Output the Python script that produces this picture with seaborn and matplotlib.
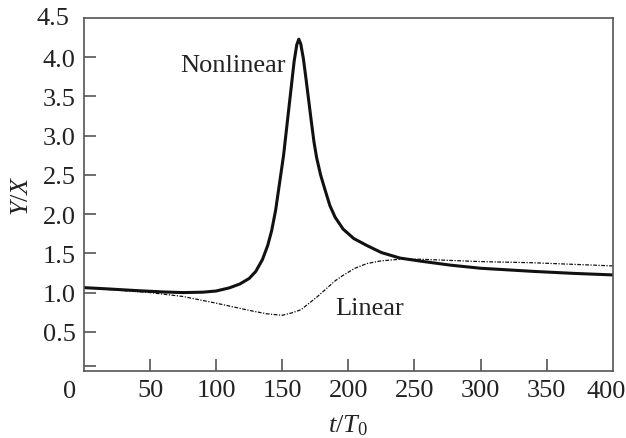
import numpy as np
import pandas as pd
import matplotlib
matplotlib.use('Agg')
import matplotlib.pyplot as plt
import matplotlib.transforms as mtransforms
import seaborn as sns

# values
t_nonlinear = [0, 20, 40, 60, 75, 90, 100, 110, 118, 125, 130, 135, 139, 142, 145,
               148, 151, 154, 157, 159, 161, 162.5, 164, 166, 168, 170, 172, 174,
               176, 179, 182, 186, 190, 196, 204, 214, 225, 239, 255, 277, 300,
               340, 370, 400]
y_nonlinear = [1.063, 1.045, 1.025, 1.008, 1.0, 1.005, 1.02, 1.06, 1.11, 1.18, 1.27,
               1.42, 1.6, 1.79, 2.05, 2.4, 2.75, 3.2, 3.65, 3.95, 4.16, 4.23, 4.17,
               3.98, 3.72, 3.45, 3.18, 2.92, 2.72, 2.5, 2.33, 2.11, 1.96, 1.81, 1.69,
               1.60, 1.51, 1.44, 1.40, 1.35, 1.31, 1.27, 1.245, 1.225]

t_linear = [0, 25, 50, 75, 100, 115, 126, 138, 150, 157, 164, 170, 176, 184, 190,
            196, 205, 214, 225, 239, 255, 277, 300, 340, 370, 400]
y_linear = [1.063, 1.03, 1.0, 0.95, 0.865, 0.81, 0.77, 0.73, 0.71, 0.74, 0.78, 0.86,
            0.94, 1.06, 1.15, 1.22, 1.31, 1.37, 1.405, 1.425, 1.425, 1.41, 1.395,
            1.38, 1.36, 1.34]

x_ticks = [0, 50, 100, 150, 200, 250, 300, 350, 400]
y_ticks = [0.5, 1.0, 1.5, 2.0, 2.5, 3.0, 3.5, 4.0, 4.5]

sns.set_theme(style='ticks')
plt.rcParams['font.family'] = ['Liberation Serif', 'DejaVu Serif']
plt.rcParams['mathtext.fontset'] = 'custom'
plt.rcParams['mathtext.rm'] = 'Liberation Serif'
plt.rcParams['mathtext.it'] = 'Liberation Serif:italic'

text_col = '#222222'
spine_col = '#555555'
fs = 19

df_nl = pd.DataFrame({'t': t_nonlinear, 'y': y_nonlinear})
df_l = pd.DataFrame({'t': t_linear, 'y': y_linear})

fig = plt.figure(figsize=(6.26, 4.39), dpi=100)
ax = fig.add_axes([0.134, 0.1526, 0.845, 0.804])

sns.lineplot(data=df_l, x='t', y='y', ax=ax, color='#111111', lw=0.9,
             linestyle=(0, (3, 1.2, 1, 1.2)), sort=False)
sns.lineplot(data=df_nl, x='t', y='y', ax=ax, color='#111111', lw=2.2, sort=False)

ax.set_xlim(0, 400)
ax.set_ylim(0.0, 4.5)
ax.set_xticks(x_ticks[1:-1])
ax.set_yticks([0.06] + y_ticks[:-1])
ax.set_yticklabels([''] + [f'{v:.1f}' for v in y_ticks[:-1]])
ax.set_xticklabels([str(v) for v in x_ticks[1:-1]])

ax.tick_params(direction='in', length=8.5, width=1.2, color=spine_col,
               labelsize=fs, labelcolor=text_col, pad=6)
for s in ax.spines.values():
    s.set_color(spine_col)
    s.set_linewidth(1.2)

# labels at the ends of the axes (no tick marks there)
xt = ax.get_xaxis_transform()
ax.text(0, 0, '0', ha='center', va='top', fontsize=fs, color=text_col,
        transform=xt + mtransforms.ScaledTranslation(-0.14, -0.085, fig.dpi_scale_trans))
ax.text(400, 0, '400', ha='center', va='top', fontsize=fs, color=text_col,
        transform=xt + mtransforms.ScaledTranslation(-0.07, -0.085, fig.dpi_scale_trans))
yt = ax.get_yaxis_transform()
ax.text(0, 4.5, '4.5', ha='right', va='center', fontsize=fs, color=text_col,
        transform=yt + mtransforms.ScaledTranslation(-0.145, 0, fig.dpi_scale_trans))

ax.set_xlabel(r'$t/T_0$', fontsize=fs, color=text_col, labelpad=8)
ax.set_ylabel(r'$Y/X$', fontsize=fs, color=text_col, labelpad=7)

ax.text(73, 3.82, 'Nonlinear', fontsize=fs, color=text_col, ha='left', va='baseline')
ax.text(190, 0.73, 'Linear', fontsize=fs, color=text_col, ha='left', va='baseline')

fig.savefig('out.png', dpi=100)
